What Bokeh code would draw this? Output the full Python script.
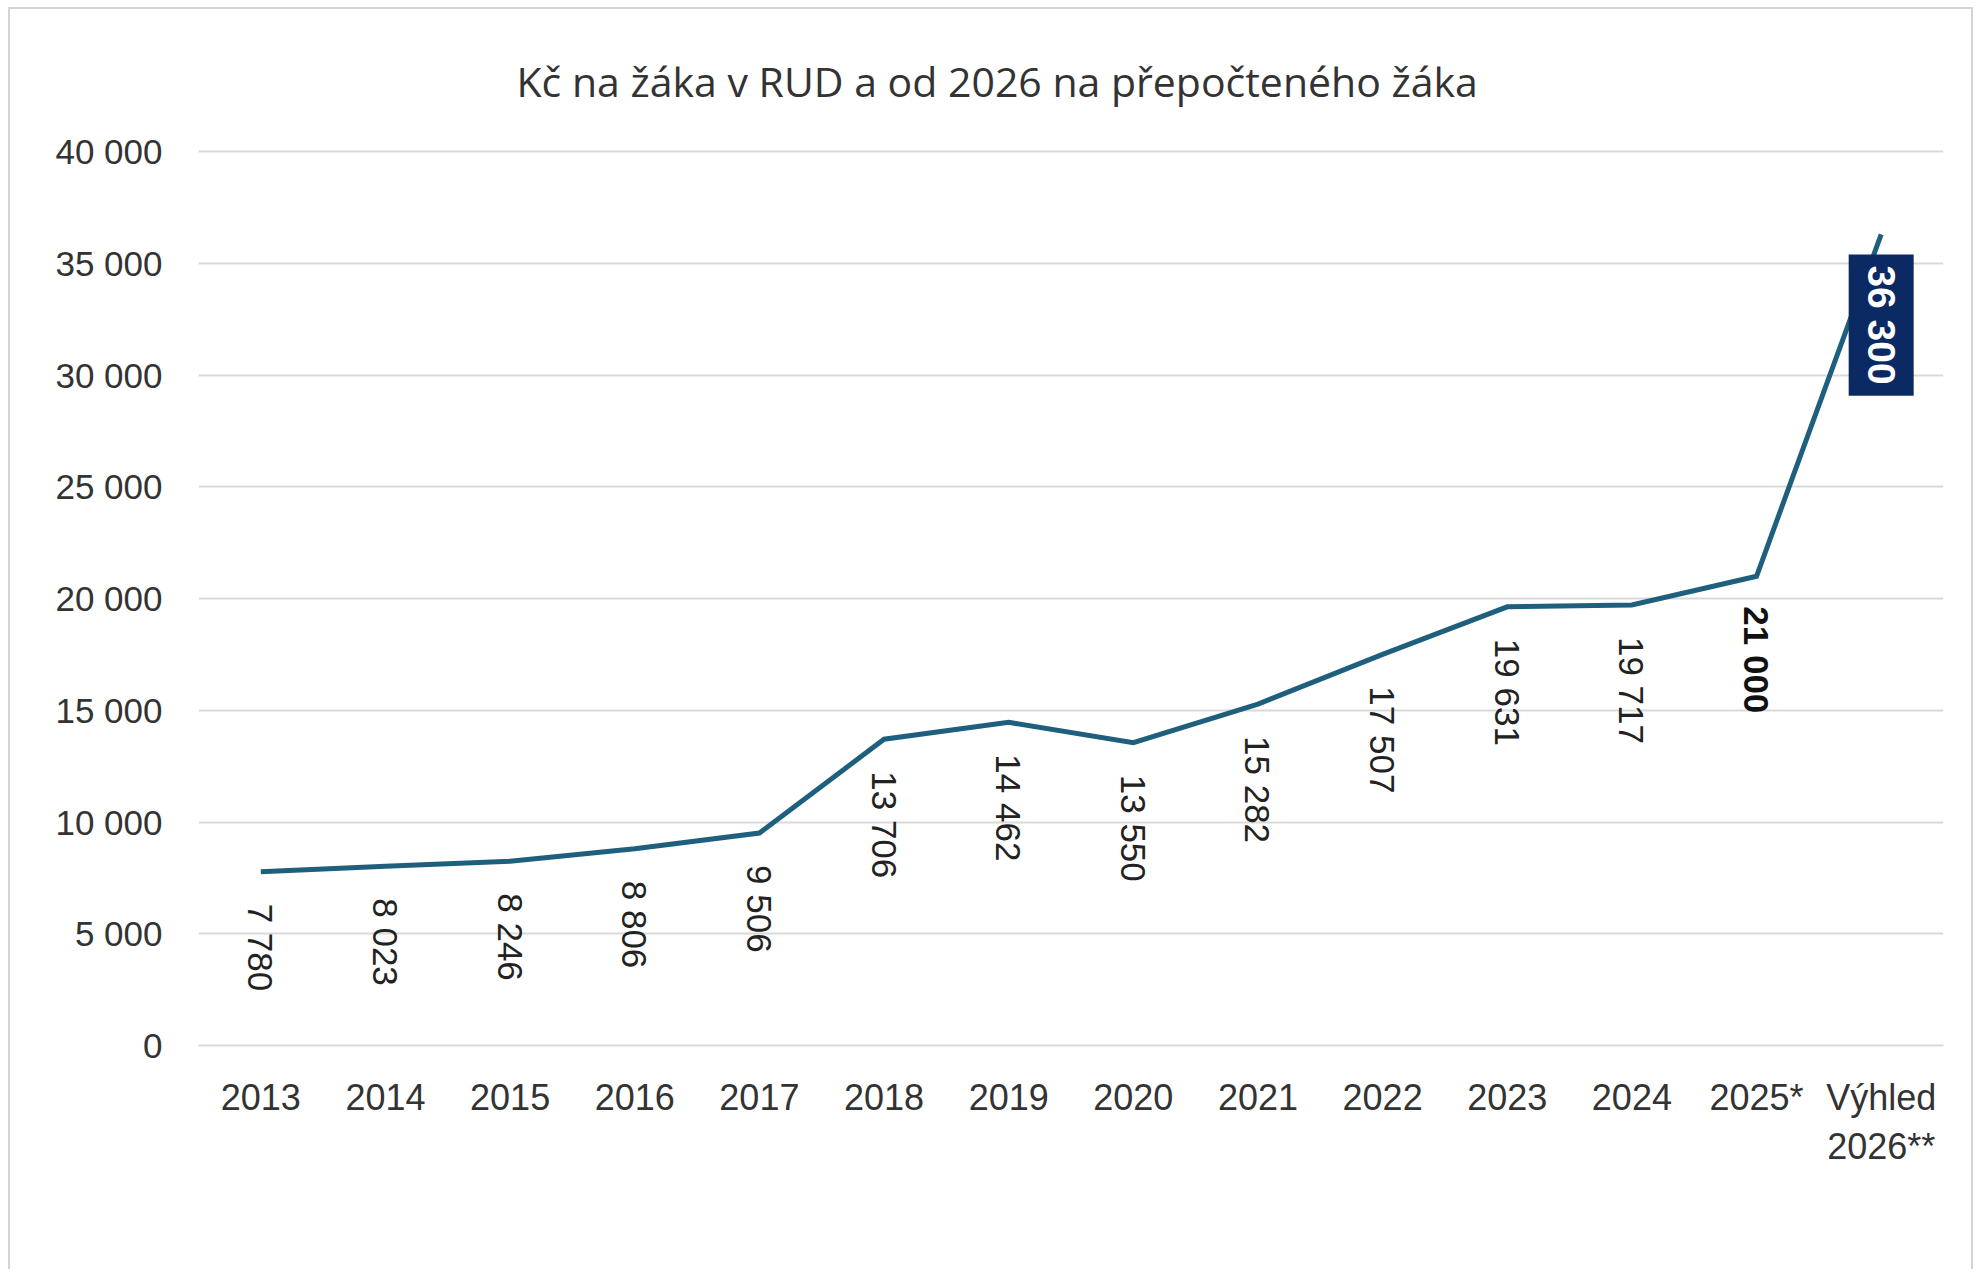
import math
from bokeh.plotting import figure
from bokeh.models import FactorRange, Range1d, FixedTicker, ColumnDataSource
from bokeh.core.properties import value
from bokeh.embed import file_html
from bokeh.resources import INLINE

categories = ["2013", "2014", "2015", "2016", "2017", "2018", "2019", "2020",
              "2021", "2022", "2023", "2024", "2025*", "Výhled\n2026**"]
values = [7780, 8023, 8246, 8806, 9506, 13706, 14462, 13550,
          15282, 17507, 19631, 19717, 21000, 36300]
y_ticks = [0, 5000, 10000, 15000, 20000, 25000, 30000, 35000, 40000]
y_tick_labels = ["0", "5 000", "10 000", "15 000", "20 000", "25 000", "30 000", "35 000", "40 000"]
title_text = "Kč na žáka v RUD a od 2026 na přepočteného žáka"

def fmt(v):
    return f"{v:,}".replace(",", " ")

labels = [fmt(v) for v in values]

LINE_COLOR = "#1f5f7e"
GRID = "#d9d9d9"
TXT = "#333333"
NUM_FONT = "Liberation Sans"

p = figure(width=1965, height=1262, x_range=FactorRange(*categories),
           y_range=Range1d(0, 40100), output_backend="svg", toolbar_location=None,
           min_border_left=188, min_border_right=32, min_border_top=135, min_border_bottom=226)
p.outline_line_color = None
p.background_fill_color = "white"
p.border_fill_color = "white"

p.title.text = title_text
p.title.align = "left"
p.title.offset = 318
p.title.text_font = "Open Sans"
p.title.text_font_size = "41px"
p.title.text_font_style = "normal"
p.title.text_color = TXT
p.title.standoff = 82

p.xgrid.grid_line_color = None
p.ygrid.grid_line_color = GRID
p.ygrid.grid_line_width = 2

p.yaxis.ticker = FixedTicker(ticks=y_ticks)
p.yaxis.major_label_overrides = {t: l for t, l in zip(y_ticks, y_tick_labels)}
p.yaxis.axis_line_color = None
p.yaxis.major_tick_line_color = None
p.yaxis.minor_tick_line_color = None
p.yaxis.major_label_standoff = 30
p.yaxis.major_label_text_font = NUM_FONT
p.yaxis.major_label_text_font_size = "35px"
p.yaxis.major_label_text_color = TXT

p.xaxis.axis_line_color = GRID
p.xaxis.axis_line_width = 2
p.xaxis.major_tick_line_color = None
p.xaxis.minor_tick_line_color = None
p.xaxis.major_label_standoff = 25
p.xaxis.major_label_text_font = NUM_FONT
p.xaxis.major_label_text_font_size = "36px"
p.xaxis.major_label_text_color = TXT

p.line(x=categories, y=values, line_color=LINE_COLOR, line_width=5, line_join="miter")

n = len(values)
src_norm = ColumnDataSource(dict(x=categories[:n - 2], y=values[:n - 2], t=labels[:n - 2]))
p.text(x="x", y="y", text="t", source=src_norm, angle=-math.pi / 2,
       text_align="left", text_baseline="middle", y_offset=32,
       text_font=value(NUM_FONT), text_font_size="35px", text_color="#222222")

src_bold = ColumnDataSource(dict(x=[categories[n - 2]], y=[values[n - 2]], t=[labels[n - 2]]))
p.text(x="x", y="y", text="t", source=src_bold, angle=-math.pi / 2,
       text_align="left", text_baseline="middle", y_offset=30,
       text_font=value(NUM_FONT), text_font_size="35px", text_font_style="bold",
       text_color="#111111")

src_box = ColumnDataSource(dict(x=[categories[n - 1]], y=[values[n - 1]], t=[labels[n - 1]]))
p.text(x="x", y="y", text="t", source=src_box, angle=-math.pi / 2,
       text_align="left", text_baseline="middle", y_offset=20,
       text_font=value(NUM_FONT), text_font_size="39px", text_font_style="bold",
       text_color="white", background_fill_color="#0b2a63", padding=11)

p.styles = {"margin-left": "8px", "margin-top": "7px",
            "border-left": "2px solid #d4d4d4", "border-top": "2px solid #d4d4d4",
            "border-right": "2px solid #d4d4d4"}

open("out.html", "w").write(file_html(p, INLINE))
